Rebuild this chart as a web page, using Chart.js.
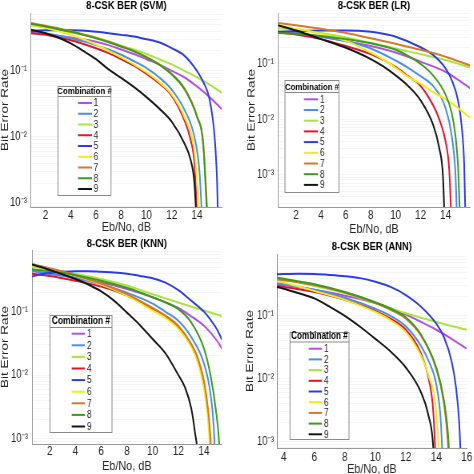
<!DOCTYPE html>
<html>
<head>
<meta charset="utf-8">
<script src="https://cdn.jsdelivr.net/npm/chart.js@4.4.1/dist/chart.umd.min.js"></script>
<style>
  html, body { margin: 0; padding: 0; background: #fff; overflow: hidden; }
  #wrap { position: relative; width: 474px; height: 474px; overflow: hidden; }
  #wrap canvas { position: absolute; transform-origin: 0 0; }
</style>
</head>
<body>
<div id="wrap"></div>
<script>
// the reference figure is squeezed horizontally, so every canvas is drawn wide and scaled down
const SX = 0.8;
const FONT = '"Liberation Sans", Arial, Helvetica, sans-serif';

const comboLabels = ['1', '2', '3', '4', '5', '6', '7', '8', '9'];
const comboColors = ['#b44fe6', '#4a8fe6', '#a8e63c', '#e0162e', '#2b3de0', '#f0ec1c', '#d9772c', '#3d9a1f', '#151515'];

const yDecades = [1e-4, 1e-3, 1e-2, 1e-1, 1];
const yDecadeLabels = ['10⁻⁴', '10⁻³', '10⁻²', '10⁻¹', '10⁰'];
const yMinorSteps = [1, 2, 3, 4, 5, 6, 7, 8, 9];

const panelTitles = ['8-CSK BER (SVM)', '8-CSK BER (LR)', '8-CSK BER (KNN)', '8-CSK BER (ANN)'];

const svmXTicks = [2, 4, 6, 8, 10, 12, 14];
const lrXTicks = [2, 4, 6, 8, 10, 12, 14];
const knnXTicks = [2, 4, 6, 8, 10, 12, 14];
const annXTicks = [4, 6, 8, 10, 12, 14, 16];

const svmXRange = [0.85, 15.97];
const lrXRange = [0.55, 15.95];
const knnXRange = [0.62, 15.38];
const annXRange = [3.55, 16];

const svmYRange = [8.7e-4, 0.75];
const lrYRange = [2.6e-4, 0.83];
const knnYRange = [8.1e-4, 0.95];
const annYRange = [7.8e-4, 0.97];

// [Eb/No (dB), BER], one list per combination 1..9
const svmBer = [
  [[0.85, 0.38], [2, 0.36], [3, 0.34], [4, 0.32], [5, 0.30], [6, 0.275], [7, 0.245], [8, 0.21], [9, 0.18], [10, 0.15], [11, 0.125], [12, 0.10], [13, 0.08], [14, 0.058], [15, 0.04], [16, 0.026]],
  [[0.85, 0.40], [2, 0.37], [3, 0.34], [4, 0.31], [5, 0.28], [6, 0.245], [7, 0.21], [8, 0.175], [9, 0.14], [10, 0.11], [11, 0.08], [12, 0.052], [13, 0.026], [13.8, 0.01], [14.2, 0.003], [14.45, 0.0004]],
  [[0.85, 0.49], [2, 0.45], [3, 0.42], [4, 0.38], [5, 0.35], [6, 0.32], [7, 0.28], [8, 0.24], [9, 0.21], [10, 0.18], [11, 0.15], [12, 0.125], [13, 0.10], [14, 0.08], [15, 0.062], [16, 0.046]],
  [[0.85, 0.37], [2, 0.35], [3, 0.32], [4, 0.29], [5, 0.255], [6, 0.22], [7, 0.185], [8, 0.15], [9, 0.12], [10, 0.09], [11, 0.065], [12, 0.042], [13, 0.018], [13.5, 0.009], [13.8, 0.004], [14.05, 0.0004]],
  [[0.85, 0.40], [2, 0.41], [4, 0.41], [6, 0.39], [8, 0.35], [9, 0.33], [10, 0.30], [11, 0.27], [12, 0.22], [13, 0.17], [14, 0.10], [14.5, 0.068], [15, 0.037], [15.4, 0.01], [15.6, 0.002], [15.7, 0.0003]],
  [[0.85, 0.50], [2, 0.45], [3, 0.40], [4, 0.35], [5, 0.30], [6, 0.25], [7, 0.20], [8, 0.16], [9, 0.125], [10, 0.095], [11, 0.068], [12, 0.044], [13, 0.02], [13.8, 0.006], [14.3, 0.0004]],
  [[0.85, 0.53], [2, 0.48], [3, 0.44], [4, 0.40], [5, 0.355], [6, 0.315], [7, 0.275], [8, 0.235], [9, 0.20], [10, 0.162], [11, 0.126], [12, 0.09], [13, 0.055], [14, 0.021], [14.5, 0.008], [14.9, 0.0004]],
  [[0.85, 0.51], [2, 0.47], [3, 0.43], [4, 0.39], [5, 0.35], [6, 0.31], [7, 0.27], [8, 0.232], [9, 0.197], [10, 0.16], [11, 0.124], [12, 0.088], [13, 0.053], [14, 0.02], [14.5, 0.0075], [14.85, 0.0004]],
  [[0.85, 0.42], [2, 0.37], [3, 0.32], [4, 0.26], [5, 0.20], [6, 0.15], [7, 0.105], [8, 0.078], [9, 0.057], [10, 0.04], [11, 0.027], [12, 0.017], [13, 0.008], [13.5, 0.0045], [13.8, 0.002], [14.0, 0.0004]]
];

const lrBer = [
  [[0.55, 0.38], [2, 0.36], [4, 0.31], [6, 0.26], [8, 0.21], [10, 0.16], [12, 0.11], [13, 0.09], [14, 0.072], [15, 0.052], [16, 0.036]],
  [[0.55, 0.38], [2, 0.36], [4, 0.31], [6, 0.255], [8, 0.19], [10, 0.115], [11, 0.085], [12, 0.06], [13, 0.04], [14, 0.016], [14.5, 0.005], [14.8, 0.001], [14.95, 0.0001]],
  [[0.55, 0.44], [2, 0.41], [4, 0.36], [6, 0.30], [8, 0.24], [10, 0.19], [12, 0.15], [14, 0.118], [16, 0.086]],
  [[0.55, 0.37], [2, 0.34], [4, 0.28], [6, 0.21], [8, 0.15], [10, 0.088], [11, 0.06], [12, 0.04], [13, 0.018], [13.5, 0.01], [14, 0.004], [14.3, 0.0012], [14.5, 0.0001]],
  [[0.55, 0.38], [2, 0.39], [4, 0.40], [6, 0.40], [8, 0.38], [9, 0.35], [10, 0.31], [12, 0.20], [13, 0.145], [14, 0.083], [14.5, 0.051], [15, 0.022], [15.3, 0.0074], [15.5, 0.0015], [15.62, 0.0001]],
  [[0.55, 0.48], [2, 0.43], [4, 0.35], [6, 0.26], [8, 0.16], [9, 0.12], [10, 0.085], [11, 0.058], [12, 0.044], [13, 0.031], [14, 0.023], [15, 0.016], [16, 0.0105]],
  [[0.55, 0.55], [2, 0.50], [4, 0.43], [6, 0.36], [8, 0.29], [10, 0.23], [12, 0.18], [14, 0.135], [16, 0.093]],
  [[0.55, 0.36], [2, 0.35], [4, 0.32], [6, 0.28], [8, 0.235], [10, 0.18], [11, 0.14], [12, 0.10], [13, 0.062], [14, 0.028], [14.5, 0.013], [14.8, 0.005], [15.0, 0.0015], [15.2, 0.0001]],
  [[0.55, 0.50], [2, 0.40], [4, 0.28], [6, 0.195], [8, 0.122], [9, 0.09], [10, 0.062], [11, 0.04], [12, 0.022], [13, 0.008], [13.5, 0.003], [13.8, 0.0009], [13.95, 0.0001]]
];

const knnBer = [
  [[0.6, 0.44], [2, 0.40], [4, 0.35], [6, 0.29], [8, 0.23], [10, 0.17], [12, 0.115], [13, 0.085], [14, 0.06], [15, 0.035], [15.4, 0.026]],
  [[0.6, 0.45], [2, 0.40], [4, 0.34], [6, 0.27], [8, 0.20], [10, 0.135], [11, 0.10], [12, 0.072], [13, 0.04], [14, 0.015], [14.5, 0.005], [14.8, 0.001], [14.9, 0.0002]],
  [[0.6, 0.52], [2, 0.47], [4, 0.40], [6, 0.33], [8, 0.26], [10, 0.19], [12, 0.14], [14, 0.105], [15.4, 0.085]],
  [[0.6, 0.40], [2, 0.37], [4, 0.31], [6, 0.25], [8, 0.18], [10, 0.11], [11, 0.083], [12, 0.057], [13, 0.03], [13.5, 0.018], [14, 0.007], [14.3, 0.0025], [14.5, 0.0008], [14.6, 0.0002]],
  [[0.6, 0.36], [1, 0.38], [2, 0.41], [3, 0.43], [4, 0.44], [5, 0.44], [6, 0.43], [7, 0.42], [8, 0.40], [9, 0.37], [10, 0.34], [11, 0.29], [12, 0.22], [13, 0.15], [14, 0.10], [14.5, 0.075], [15, 0.053], [15.4, 0.036]],
  [[0.6, 0.55], [2, 0.48], [4, 0.37], [6, 0.27], [8, 0.18], [10, 0.105], [11, 0.08], [12, 0.054], [13, 0.028], [13.5, 0.016], [14, 0.006], [14.3, 0.002], [14.45, 0.0007], [14.55, 0.0002]],
  [[0.6, 0.57], [2, 0.49], [4, 0.38], [6, 0.28], [8, 0.19], [10, 0.115], [11, 0.087], [12, 0.06], [13, 0.031], [13.5, 0.019], [14, 0.008], [14.3, 0.003], [14.5, 0.001], [14.65, 0.0002]],
  [[0.6, 0.47], [2, 0.44], [4, 0.38], [6, 0.31], [8, 0.24], [10, 0.17], [11, 0.14], [12, 0.11], [13, 0.068], [14, 0.026], [14.5, 0.01], [14.9, 0.003], [15.2, 0.0007], [15.3, 0.0002]],
  [[0.6, 0.56], [2, 0.46], [4, 0.33], [5, 0.27], [6, 0.21], [7, 0.15], [8, 0.097], [9, 0.062], [10, 0.037], [11, 0.022], [12, 0.01], [12.5, 0.0065], [13, 0.003], [13.3, 0.0012], [13.5, 0.0005], [13.6, 0.0001]]
];

const annBer = [
  [[3.55, 0.32], [4, 0.31], [6, 0.26], [8, 0.21], [10, 0.16], [12, 0.105], [13, 0.08], [14, 0.06], [15, 0.043], [16, 0.03]],
  [[3.55, 0.33], [4, 0.32], [6, 0.26], [8, 0.195], [10, 0.13], [11, 0.10], [12, 0.068], [13, 0.033], [13.5, 0.019], [14, 0.008], [14.3, 0.002], [14.45, 0.0003]],
  [[3.55, 0.40], [4, 0.38], [6, 0.30], [8, 0.23], [10, 0.16], [12, 0.11], [14, 0.08], [16, 0.06]],
  [[3.55, 0.30], [4, 0.29], [6, 0.24], [8, 0.18], [10, 0.12], [11, 0.09], [12, 0.06], [13, 0.025], [13.5, 0.01], [13.8, 0.003], [14.0, 0.0003]],
  [[3.55, 0.46], [4, 0.465], [5, 0.47], [6, 0.465], [7, 0.45], [8, 0.43], [9, 0.40], [10, 0.35], [11, 0.29], [12, 0.215], [13, 0.14], [14, 0.075], [14.5, 0.046], [15, 0.019], [15.3, 0.007], [15.5, 0.002], [15.65, 0.0003]],
  [[3.55, 0.36], [4, 0.34], [6, 0.25], [8, 0.18], [10, 0.115], [11, 0.085], [12, 0.055], [13, 0.023], [13.5, 0.011], [14, 0.003], [14.25, 0.0003]],
  [[3.55, 0.38], [4, 0.37], [6, 0.31], [8, 0.235], [10, 0.16], [11, 0.125], [12, 0.09], [13, 0.048], [14, 0.014], [14.5, 0.004], [14.75, 0.001], [14.88, 0.0002]],
  [[3.55, 0.41], [4, 0.39], [6, 0.32], [8, 0.24], [10, 0.165], [11, 0.13], [12, 0.095], [13, 0.05], [14, 0.015], [14.5, 0.0045], [14.8, 0.001], [14.92, 0.0002]],
  [[3.55, 0.29], [4, 0.27], [5, 0.23], [6, 0.19], [7, 0.14], [8, 0.10], [9, 0.067], [10, 0.043], [11, 0.027], [12, 0.015], [13, 0.006], [13.5, 0.0025], [13.8, 0.0008], [13.95, 0.0001]]
];

// layout in screen pixels, relative to each panel's corner
const panels = [
  { title: panelTitles[0], ber: svmBer, xTicks: svmXTicks, xRange: svmXRange, yRange: svmYRange,
    pos: { left: 0, top: 0, w: 237, h: 237 },
    area: { l: 31, r: 222, t: 13, b: 207 },
    pad: { title: 0.2, xTick: 0.8, xTitle: 2.5, yTitle: 0, yTick: 5 },
    legend: { x: 58, y: 86, w: 53, h: 109, titleY: 91, sepY: 96, firstY: 103, step: 10.75, x1: 78, x2: 92, numX: 93.5, titleSize: 9.8 } },
  { title: panelTitles[1], ber: lrBer, xTicks: lrXTicks, xRange: lrXRange, yRange: lrYRange,
    pos: { left: 237, top: 0, w: 237, h: 237 },
    area: { l: 41, r: 233, t: 13, b: 207 },
    pad: { title: 0, xTick: 0.8, xTitle: 0.5, yTitle: 12, yTick: 5 },
    legend: { x: 48, y: 80, w: 54, h: 112, titleY: 87, sepY: 92, firstY: 99.3, step: 10.7, x1: 67, x2: 81, numX: 83, titleSize: 9.7 } },
  { title: panelTitles[2], ber: knnBer, xTicks: knnXTicks, xRange: knnXRange, yRange: knnYRange,
    pos: { left: 0, top: 237, w: 237, h: 237 },
    area: { l: 32, r: 222, t: 13, b: 207 },
    pad: { title: 1, xTick: 0, xTitle: 0.5, yTitle: 0, yTick: 5 },
    legend: { x: 50, y: 78, w: 62, h: 117, titleY: 84.5, sepY: 90, firstY: 96.7, step: 11.6, x1: 71.7, x2: 85, numX: 87, titleSize: 10.5 } },
  { title: panelTitles[3], ber: annBer, xTicks: annXTicks, xRange: annXRange, yRange: annYRange,
    pos: { left: 237, top: 237, w: 237, h: 245 },
    area: { l: 40, r: 233, t: 17, b: 211 },
    pad: { title: 4, xTick: 1.8, xTitle: 5.5, yTitle: 9.75, yTick: 3.75 },
    legend: { x: 53, y: 95, w: 59, h: 107, titleY: 99.5, sepY: 104.5, firstY: 111.7, step: 10.7, x1: 71.7, x2: 85, numX: 87, titleSize: 10.2 } }
];

function yTickList(range) {
  const list = [];
  yDecades.forEach(d => {
    yMinorSteps.forEach(m => {
      const v = m * d;
      if (v >= range[0] * 0.999 && v <= range[1] * 1.001) list.push({ value: v });
    });
  });
  return list;
}

function yTickLabel(value) {
  const i = yDecades.findIndex(d => Math.abs(value / d - 1) < 1e-6);
  return i >= 0 ? yDecadeLabels[i] : '';
}

// legend box drawn inside the plot, like the MATLAB one
const comboLegend = {
  id: 'comboLegend',
  afterDraw(chart, args, opts) {
    const g = opts.geom;
    if (!g) return;
    const ctx = chart.ctx;
    const sx = v => v / SX;
    ctx.save();
    ctx.fillStyle = '#ffffff';
    ctx.fillRect(sx(g.x), g.y, sx(g.w), g.h);
    ctx.strokeStyle = '#8a8a8a';
    ctx.lineWidth = 1;
    ctx.strokeRect(sx(g.x), g.y + 0.5, sx(g.w), g.h);
    ctx.beginPath();
    ctx.moveTo(sx(g.x), g.sepY + 0.5);
    ctx.lineTo(sx(g.x + g.w), g.sepY + 0.5);
    ctx.stroke();

    ctx.fillStyle = '#000';
    ctx.font = 'bold ' + g.titleSize + 'px ' + FONT;
    ctx.textAlign = 'center';
    ctx.textBaseline = 'middle';
    ctx.fillText('Combination #', sx(g.x + g.w / 2), g.titleY);

    ctx.font = '10.5px ' + FONT;
    ctx.textAlign = 'left';
    chart.data.datasets.forEach((ds, i) => {
      const y = g.firstY + i * g.step;
      ctx.strokeStyle = ds.borderColor;
      ctx.lineWidth = 2;
      ctx.beginPath();
      ctx.moveTo(sx(g.x1), y);
      ctx.lineTo(sx(g.x2), y);
      ctx.stroke();
      ctx.fillStyle = '#262626';
      ctx.fillText(ds.label, sx(g.numX), y + 0.5);
    });
    ctx.restore();
  }
};

function makePanel(p) {
  const canvas = document.createElement('canvas');
  const cw = Math.round(p.pos.w / SX);
  canvas.width = cw;
  canvas.height = p.pos.h;
  canvas.style.width = cw + 'px';
  canvas.style.height = p.pos.h + 'px';
  canvas.style.left = p.pos.left + 'px';
  canvas.style.top = p.pos.top + 'px';
  canvas.style.transform = 'scaleX(' + SX + ')';
  document.getElementById('wrap').appendChild(canvas);

  const datasets = p.ber.map((pts, i) => ({
    label: comboLabels[i],
    data: pts.map(pt => ({ x: pt[0], y: pt[1] })),
    borderColor: comboColors[i],
    backgroundColor: comboColors[i],
    borderWidth: 2,
    pointRadius: 0,
    cubicInterpolationMode: 'monotone',
    fill: false,
    order: comboLabels.length - i
  }));

  return new Chart(canvas, {
    type: 'line',
    data: { datasets: datasets },
    plugins: [comboLegend],
    options: {
      responsive: false,
      animation: false,
      events: [],
      layout: { autoPadding: false, padding: { left: 0, top: 0, bottom: 0, right: (p.pos.w - p.area.r) / SX } },
      plugins: {
        legend: { display: false },
        tooltip: { enabled: false },
        title: {
          display: true,
          text: p.title,
          fullSize: false,
          color: '#000',
          font: { family: FONT, size: 11.8, weight: 'bold', lineHeight: 1 },
          padding: { top: p.pad.title, bottom: p.area.t - p.pad.title - 11.8 }
        },
        comboLegend: { geom: p.legend }
      },
      scales: {
        x: {
          type: 'linear',
          min: p.xRange[0],
          max: p.xRange[1],
          afterBuildTicks: s => { s.ticks = p.xTicks.map(v => ({ value: v })); },
          afterFit: s => { s.height = p.pos.h - p.area.b; },
          grid: { display: false, drawTicks: false },
          border: { display: true, color: '#9a9a9a', width: 1 },
          ticks: { autoSkip: false, maxRotation: 0, padding: p.pad.xTick, color: '#262626', font: { family: FONT, size: 12.5 } },
          title: {
            display: true, text: 'Eb/No, dB', color: '#262626',
            font: { family: FONT, size: 13.5, lineHeight: 1 },
            padding: { top: 0, bottom: p.pad.xTitle }
          }
        },
        y: {
          type: 'logarithmic',
          min: p.yRange[0],
          max: p.yRange[1],
          afterBuildTicks: s => { s.ticks = yTickList(p.yRange); },
          afterFit: s => { s.width = p.area.l / SX; },
          grid: { color: '#f5f5f5', drawTicks: false },
          border: { display: true, color: '#9a9a9a', width: 1 },
          ticks: { autoSkip: false, padding: p.pad.yTick, color: '#262626', font: { family: FONT, size: 12 }, callback: v => yTickLabel(v) },
          title: {
            display: true, text: 'Bit Error Rate', color: '#262626',
            font: { family: FONT, size: 13.5, lineHeight: 1 },
            padding: { top: p.pad.yTitle, bottom: 0 }
          }
        }
      }
    }
  });
}

panels.forEach(makePanel);
</script>
</body>
</html>
